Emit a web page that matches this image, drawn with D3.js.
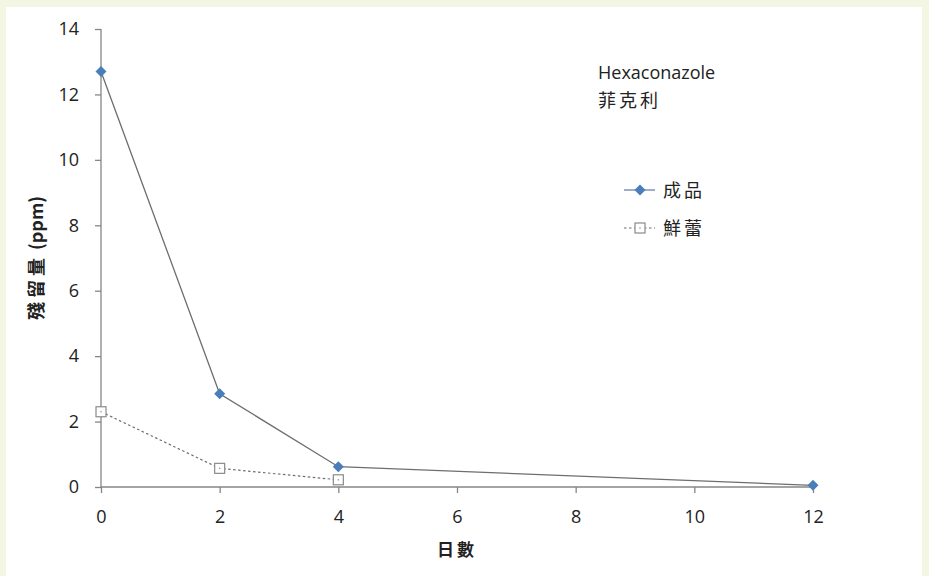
<!DOCTYPE html>
<html><head><meta charset="utf-8">
<script src="https://cdn.jsdelivr.net/npm/d3@7"></script>
<style>body{margin:0;background:#f2f6e4;} svg{display:block;}</style>
</head><body>
<script>
const days = [0, 2, 4, 12];
const productValues = [12.7, 2.85, 0.62, 0.05];
const budDays = [0, 2, 4];
const budValues = [2.3, 0.57, 0.22];
const seriesNames = ["成品", "鮮蕾"];
const xTicks = [0, 2, 4, 6, 8, 10, 12];
const yTicks = [0, 2, 4, 6, 8, 10, 12, 14];
const titleLines = ["Hexaconazole", "菲克利"];

const W = 929, H = 576;
const svg = d3.select("body").append("svg").attr("width", W).attr("height", H);
svg.append("rect").attr("x", 0).attr("y", 0).attr("width", W).attr("height", H).attr("fill", "#f2f6e2");
svg.append("rect").attr("x", 6).attr("y", 7).attr("width", 916).attr("height", H - 7).attr("fill", "#ffffff");

const x = d3.scaleLinear().domain([0, 12]).range([101, 813]);
const y = d3.scaleLinear().domain([0, 14]).range([487, 29]);
const axisColor = "#868686";
const font = "'Open Sans', 'Liberation Sans', Arial, sans-serif";
const cjk = "'Noto Sans CJK TC', 'Noto Sans CJK SC', sans-serif";

const yAxis = svg.append("g").attr("transform", "translate(101,0)")
  .call(d3.axisLeft(y).tickValues(yTicks).tickSize(6).tickPadding(16).tickFormat(d3.format("d")));
const xAxis = svg.append("g").attr("transform", "translate(0,487)")
  .call(d3.axisBottom(x).tickValues(xTicks).tickSize(6).tickPadding(17).tickFormat(d3.format("d")));
[yAxis, xAxis].forEach(g => {
  g.selectAll("path, line").attr("stroke", axisColor).attr("stroke-width", 1.3);
  g.selectAll("text").attr("fill", "#222").style("font-family", font).style("font-size", "18px");
});
yAxis.select(".domain").attr("d", "M0,29V487");
xAxis.select(".domain").attr("d", "M101,0H813");

const yt = svg.append("text").attr("transform", "translate(43,258) rotate(-90)")
  .attr("text-anchor", "middle").style("font-family", cjk).style("font-weight", "bold")
  .style("font-size", "18px").attr("fill", "#222");
yt.append("tspan").style("letter-spacing", "4px").text("殘留量");
yt.append("tspan").text(" (ppm)");
svg.append("text").attr("x", 457).attr("y", 556).attr("text-anchor", "middle")
  .style("font-family", cjk).style("font-weight", "bold").style("font-size", "17px")
  .style("letter-spacing", "3px").attr("fill", "#222").text("日數");

const prod = days.map((d, i) => [d, productValues[i]]);
const bud = budDays.map((d, i) => [d, budValues[i]]);
const line = d3.line().x(d => x(d[0])).y(d => y(d[1]));
svg.append("path").attr("d", line(prod)).attr("fill", "none").attr("stroke", "#6e6e6e").attr("stroke-width", 1.3);
svg.append("path").attr("d", line(bud)).attr("fill", "none").attr("stroke", "#6e6e6e")
  .attr("stroke-width", 1.2).attr("stroke-dasharray", "2.5,2.5");

const diamond = "M0,-5.5L5.5,0L0,5.5L-5.5,0Z";
svg.selectAll(".dia").data(prod).join("path")
  .attr("transform", d => `translate(${x(d[0])},${y(d[1])})`)
  .attr("d", diamond).attr("fill", "#4a7ebb");

function sq(g) {
  g.append("rect").attr("x", -5).attr("y", -5).attr("width", 10).attr("height", 10)
    .attr("fill", "#fff").attr("stroke", "#8a8a8a").attr("stroke-width", 1.2);
  g.append("rect").attr("x", -0.7).attr("y", -0.7).attr("width", 1.4).attr("height", 1.4).attr("fill", "#999");
}
svg.selectAll(".sq").data(bud).join("g")
  .attr("transform", d => `translate(${x(d[0])},${y(d[1])})`).each(function(){ sq(d3.select(this)); });

svg.append("text").attr("x", 598).attr("y", 79).style("font-family", font).style("font-size", "18px")
  .attr("fill", "#222").text(titleLines[0]);
svg.append("text").attr("x", 598).attr("y", 107).style("font-family", cjk).style("font-size", "18px")
  .attr("fill", "#222").style("letter-spacing", "3px").text(titleLines[1]);

const lg = svg.append("g");
lg.append("line").attr("x1", 624).attr("x2", 655).attr("y1", 190).attr("y2", 190).attr("stroke", "#6e7fa8").attr("stroke-width", 1.3);
lg.append("path").attr("transform", "translate(640,190)").attr("d", diamond).attr("fill", "#4a7ebb");
lg.append("text").attr("x", 663).attr("y", 197).style("font-family", cjk).style("font-size", "18px")
  .style("letter-spacing", "3px").attr("fill", "#222").text(seriesNames[0]);
lg.append("line").attr("x1", 624).attr("x2", 655).attr("y1", 228).attr("y2", 228).attr("stroke", "#6e6e6e")
  .attr("stroke-width", 1.2).attr("stroke-dasharray", "2.5,2.5");
const ls = lg.append("g").attr("transform", "translate(640,228)"); sq(ls);
lg.append("text").attr("x", 663).attr("y", 235).style("font-family", cjk).style("font-size", "18px")
  .style("letter-spacing", "3px").attr("fill", "#222").text(seriesNames[1]);
</script>
</body></html>
